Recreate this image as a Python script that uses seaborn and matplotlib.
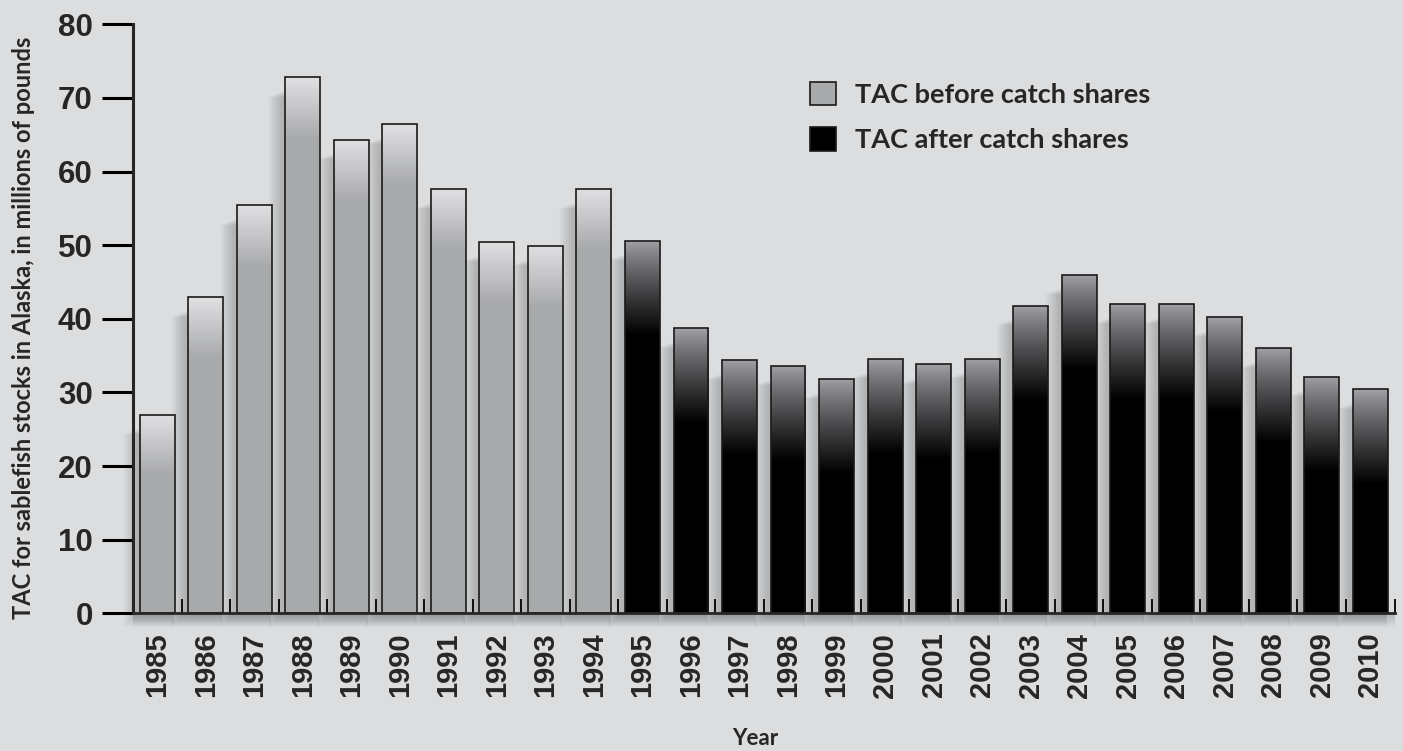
import matplotlib
matplotlib.use("Agg")
import matplotlib.pyplot as plt
import numpy as np
import pandas as pd
import seaborn as sns
from matplotlib.patches import Rectangle

# values (millions of pounds)
years = [str(y) for y in range(1985, 2011)]
tac = [27.0, 42.9, 55.4, 72.8, 64.3, 66.4, 57.6, 50.4, 49.9, 57.6,
       50.6, 38.7, 34.4, 33.6, 31.8, 34.6, 33.8, 34.6, 41.8, 46.0,
       42.0, 42.0, 40.2, 36.0, 32.1, 30.4]
label_before = "TAC before catch shares"
label_after = "TAC after catch shares"
period = [label_before] * 10 + [label_after] * 16
y_ticks = [0, 10, 20, 30, 40, 50, 60, 70, 80]

df = pd.DataFrame({"year": years, "tac": tac, "period": period})

BG = "#dcdddf"
BEFORE = "#a9aaac"
AFTER = "#000000"

sns.set_style("white")
plt.rcParams["font.family"] = ["Liberation Sans", "DejaVu Sans"]

fig = plt.figure(figsize=(14.03, 7.51), dpi=100, facecolor=BG)
ax = fig.add_axes([133 / 1403, 1 - 613.3 / 751, 1261.5 / 1403, 589 / 751])
ax.set_facecolor(BG)

sns.barplot(
    data=df, x="year", y="tac", hue="period",
    palette={label_before: BEFORE, label_after: AFTER},
    width=0.72, edgecolor="#1a1a1a", linewidth=1.2,
    ax=ax, zorder=2,
)

ax.set_xlim(-0.5, len(years) - 0.5)
ax.set_ylim(0, 80)

# pixel size in data units, for shadows and gradients
px_x = 1 / 48.52
px_y = 1 / 7.36

grad_top = {BEFORE: np.array([0.88, 0.88, 0.89]), AFTER: np.array([0.64, 0.64, 0.66])}
grad_bot = {BEFORE: np.array([0.663, 0.667, 0.675]), AFTER: np.array([0.0, 0.0, 0.0])}
grad_len = {BEFORE: 60 * px_y, AFTER: 95 * px_y}

for bar in list(ax.patches):
    h = bar.get_height()
    if not np.isfinite(h) or h <= 0:
        continue
    x0, w = bar.get_x(), bar.get_width()
    fc = bar.get_facecolor()
    key = BEFORE if fc[0] > 0.3 else AFTER

    # soft drop shadow, mostly to the left
    for k in range(1, 15):
        ax.add_patch(Rectangle(
            (x0 - (3 + k) * px_x, -k * px_y), w + 1.2 * k * px_x,
            h + (k * 0.6 - 14) * px_y,
            facecolor="black", edgecolor="none", alpha=0.010, zorder=0.5,
            clip_on=False))

    # vertical gradient clipped to the bar
    n = 300
    yy = np.linspace(0, h, n)
    t = np.clip((h - yy) / grad_len[key], 0, 1)
    if key == AFTER:
        t = t ** 0.85
    cols = grad_top[key][None, :] * (1 - t[:, None]) + grad_bot[key][None, :] * t[:, None]
    img = ax.imshow(cols[:, None, :], extent=[x0, x0 + w, 0, h], origin="lower",
                    aspect="auto", interpolation="bilinear", zorder=1.5)
    img.set_clip_path(bar)
    bar.set_facecolor("none")

# soft shadow under the baseline
for k in range(1, 13):
    ax.add_patch(Rectangle(
        (-0.5, -(2 + k) * px_y), len(years), (2 + k) * px_y,
        facecolor="black", edgecolor="none", alpha=0.010, zorder=0.4,
        clip_on=False))

ax.set_xlim(-0.5, len(years) - 0.5)
ax.set_ylim(0, 80)

# axes styling
for side in ["top", "right"]:
    ax.spines[side].set_visible(False)
ax.spines["left"].set_linewidth(2.2)
ax.spines["bottom"].set_linewidth(2.0)
ax.spines["left"].set_zorder(3)
ax.spines["bottom"].set_zorder(3)

ax.set_yticks(y_ticks)
ax.set_yticklabels([str(v) for v in y_ticks], fontsize=22.5, fontweight="bold")
ax.tick_params(axis="y", left=True, direction="out", length=22, width=2.2, pad=7,
               color="black")

ax.set_xticks(range(len(years)))
ax.set_xticklabels(years, rotation=90, fontsize=21, fontweight="bold")
ax.tick_params(axis="x", which="major", bottom=True, length=0, pad=14)
ax.set_xticks(np.arange(-0.5, len(years)), minor=True)
ax.tick_params(axis="x", which="minor", bottom=True, direction="in", length=10,
               width=1.3, color="black")

ax.set_ylabel("TAC for sablefish stocks in Alaska, in millions of pounds",
              fontfamily="Lato", fontweight="bold", fontsize=17)
ax.yaxis.set_label_coords(-0.078, 0.485)
ax.set_xlabel("Year", fontfamily="Lato", fontweight="bold", fontsize=16)
ax.xaxis.set_label_coords(0.493, -0.195)

sns.move_legend(
    ax, loc="upper left", bbox_to_anchor=(810 / 1403, 1 - 82 / 751),
    bbox_transform=fig.transFigure, frameon=False, title=None,
    prop={"family": "Lato", "weight": "bold", "size": 19.5},
    handlelength=0.95, handleheight=0.95, handletextpad=0.7,
    labelspacing=0.75, borderpad=0, borderaxespad=0,
)

fig.savefig("out.png", dpi=100, facecolor=BG)
